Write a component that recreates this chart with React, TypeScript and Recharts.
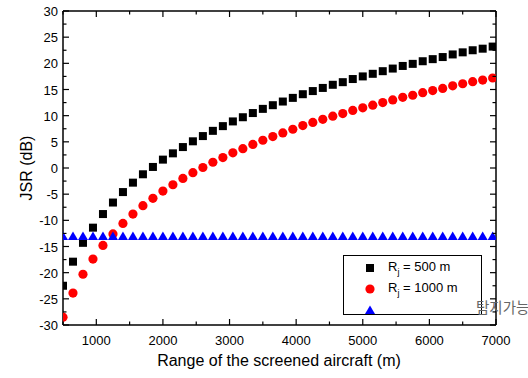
import React from "react"
import {
  ScatterChart,
  Scatter,
  XAxis,
  YAxis,
  Customized,
} from "recharts"

// range of the screened aircraft (m)
const ranges = [
  500, 650, 800, 950, 1100, 1250, 1400, 1550, 1700, 1850, 2000, 2150, 2300,
  2450, 2600, 2750, 2900, 3050, 3200, 3350, 3500, 3650, 3800, 3950, 4100,
  4250, 4400, 4550, 4700, 4850, 5000, 5150, 5300, 5450, 5600, 5750, 5900,
  6050, 6200, 6350, 6500, 6650, 6800, 6950,
]

// JSR (dB), Rj = 500 m
const jsr500 = [
  -22.5, -17.9, -14.3, -11.4, -8.8, -6.6, -4.6, -2.8, -1.2, 0.2, 1.6, 2.8, 4.0,
  5.1, 6.1, 7.1, 8.0, 8.9, 9.7, 10.5, 11.3, 12.0, 12.7, 13.4, 14.1, 14.7, 15.3,
  15.9, 16.4, 17.0, 17.5, 18.0, 18.5, 19.0, 19.5, 19.9, 20.4, 20.8, 21.2, 21.7,
  22.1, 22.5, 22.8, 23.2,
]

// JSR (dB), Rj = 1000 m
const jsr1000 = [
  -28.5, -23.9, -20.3, -17.4, -14.8, -12.6, -10.6, -8.8, -7.2, -5.8, -4.4, -3.2,
  -2.0, -0.9, 0.1, 1.1, 2.0, 2.9, 3.7, 4.5, 5.3, 6.0, 6.7, 7.4, 8.1, 8.7, 9.3,
  9.9, 10.4, 11.0, 11.5, 12.0, 12.5, 13.0, 13.5, 13.9, 14.4, 14.8, 15.2, 15.7,
  16.1, 16.5, 16.8, 17.2,
]

// detection threshold (dB)
const threshold = [
  -13, -13, -13, -13, -13, -13, -13, -13, -13, -13, -13, -13, -13, -13, -13,
  -13, -13, -13, -13, -13, -13, -13, -13, -13, -13, -13, -13, -13, -13, -13,
  -13, -13, -13, -13, -13, -13, -13, -13, -13, -13, -13, -13, -13, -13,
]

const xTicks = [
  500, 1000, 1500, 2000, 2500, 3000, 3500, 4000, 4500, 5000, 5500, 6000, 6500,
  7000,
]
const yTicks = [
  -30, -27.5, -25, -22.5, -20, -17.5, -15, -12.5, -10, -7.5, -5, -2.5, 0, 2.5,
  5, 7.5, 10, 12.5, 15, 17.5, 20, 22.5, 25, 27.5, 30,
]

const font = "Arial, 'Liberation Sans', sans-serif"

const squares = ranges.map((x, i) => ({ x, y: jsr500[i] }))
const circles = ranges.map((x, i) => ({ x, y: jsr1000[i] }))
const triangles = ranges.map((x, i) => ({ x, y: threshold[i] }))

const Square = ({ cx, cy }: any) => (
  <rect x={cx - 4} y={cy - 4} width={8} height={8} fill="#000" />
)
const Dot = ({ cx, cy }: any) => <circle cx={cx} cy={cy} r={4.6} fill="#ff0000" />
const Tri = ({ cx, cy }: any) => (
  <polygon
    points={`${cx},${cy - 4.5} ${cx + 5},${cy + 4} ${cx - 5},${cy + 4}`}
    fill="#0000ff"
  />
)

const BottomTick = ({ x, y, payload }: any) => {
  const major = payload.value % 1000 === 0
  return (
    <g>
      <line x1={x} y1={y} x2={x} y2={y - (major ? 6 : 3.5)} stroke="#000" strokeWidth={1.2} />
      {major && (
        <text x={x} y={y + 20} textAnchor="middle" fontSize={13} fontFamily={font} fill="#000">
          {payload.value}
        </text>
      )}
    </g>
  )
}

const TopTick = ({ x, y, payload }: any) => {
  const major = payload.value % 1000 === 0
  return <line x1={x} y1={y} x2={x} y2={y + (major ? 6 : 3.5)} stroke="#000" strokeWidth={1.2} />
}

const LeftTick = ({ x, y, payload }: any) => {
  const major = payload.value % 5 === 0
  return (
    <g>
      <line x1={x} y1={y} x2={x + (major ? 6 : 3.5)} y2={y} stroke="#000" strokeWidth={1.2} />
      {major && (
        <text x={x - 5} y={y + 5} textAnchor="end" fontSize={13} fontFamily={font} fill="#000">
          {payload.value}
        </text>
      )}
    </g>
  )
}

const RightTick = ({ x, y, payload }: any) => {
  const major = payload.value % 5 === 0
  return <line x1={x} y1={y} x2={x - (major ? 6 : 3.5)} y2={y} stroke="#000" strokeWidth={1.2} />
}

const Titles = () => (
  <g fontFamily={font} fill="#000">
    <text x={279} y={366} textAnchor="middle" fontSize={16}>
      Range of the screened aircraft (m)
    </text>
    <text x={26} y={168} textAnchor="middle" fontSize={16} transform="rotate(-90 26 168)" dy={6}>
      JSR (dB)
    </text>
  </g>
)

export default function App() {
  const legendRow = { display: "flex", alignItems: "center", height: 21 }
  const marker = { width: 26, display: "flex", justifyContent: "center" }
  return (
    <div
      style={{
        position: "absolute",
        left: 0,
        top: 0,
        width: 528,
        height: 378,
        overflow: "hidden",
        background: "#fff",
        fontFamily: font,
      }}
    >
      <ScatterChart width={528} height={378} margin={{ top: 0, right: 0, bottom: 0, left: 0 }}>
        <XAxis
          xAxisId="b"
          type="number"
          dataKey="x"
          domain={[500, 7000]}
          ticks={xTicks}
          interval={0}
          height={53}
          tickSize={0}
          tickMargin={0}
          tick={<BottomTick />}
          axisLine={{ stroke: "#000", strokeWidth: 1.5 }}
          allowDataOverflow
        />
        <XAxis
          xAxisId="t"
          orientation="top"
          type="number"
          dataKey="x"
          domain={[500, 7000]}
          ticks={xTicks}
          interval={0}
          height={11}
          tickSize={0}
          tickMargin={0}
          tick={<TopTick />}
          axisLine={{ stroke: "#000", strokeWidth: 1.5 }}
          allowDataOverflow
        />
        <YAxis
          yAxisId="l"
          type="number"
          dataKey="y"
          domain={[-30, 30]}
          ticks={yTicks}
          interval={0}
          width={63}
          tickSize={0}
          tickMargin={0}
          tick={<LeftTick />}
          axisLine={{ stroke: "#000", strokeWidth: 1.5 }}
          allowDataOverflow
        />
        <YAxis
          yAxisId="r"
          orientation="right"
          type="number"
          dataKey="y"
          domain={[-30, 30]}
          ticks={yTicks}
          interval={0}
          width={32}
          tickSize={0}
          tickMargin={0}
          tick={<RightTick />}
          axisLine={{ stroke: "#000", strokeWidth: 1.5 }}
          allowDataOverflow
        />
        <Scatter xAxisId="b" yAxisId="l" data={squares} shape={<Square />} isAnimationActive={false} />
        <Scatter xAxisId="b" yAxisId="l" data={circles} shape={<Dot />} isAnimationActive={false} />
        <Scatter xAxisId="b" yAxisId="l" data={triangles} shape={<Tri />} isAnimationActive={false} />
        <Customized component={<Titles />} />
      </ScatterChart>

      <div
        style={{
          position: "absolute",
          left: 343,
          top: 255,
          width: 139,
          height: 60,
          border: "1px solid #000",
          boxSizing: "border-box",
          background: "#fff",
          fontSize: 13,
          paddingTop: 1,
          paddingLeft: 13,
        }}
      >
        <div style={legendRow}>
          <div style={marker}>
            <svg width={10} height={10}>
              <rect x={1} y={1} width={8} height={8} fill="#000" />
            </svg>
          </div>
          <span style={{ marginLeft: 5 }}>
            R<sub style={{ fontSize: 9 }}>j</sub> = 500 m
          </span>
        </div>
        <div style={legendRow}>
          <div style={marker}>
            <svg width={10} height={10}>
              <circle cx={5} cy={5} r={4.6} fill="#ff0000" />
            </svg>
          </div>
          <span style={{ marginLeft: 5 }}>
            R<sub style={{ fontSize: 9 }}>j</sub> = 1000 m
          </span>
        </div>
        <div style={legendRow}>
          <div style={marker}>
            <svg width={12} height={10}>
              <polygon points="6,0.5 11,9 1,9" fill="#0000ff" />
            </svg>
          </div>
        </div>
      </div>

      <div
        style={{
          position: "absolute",
          left: 476,
          top: 297,
          fontSize: 14.5,
          color: "#666",
          fontFamily: "'Noto Sans CJK KR', sans-serif",
          whiteSpace: "nowrap",
          lineHeight: "20px",
        }}
      >
        탐지가능
      </div>
    </div>
  )
}
